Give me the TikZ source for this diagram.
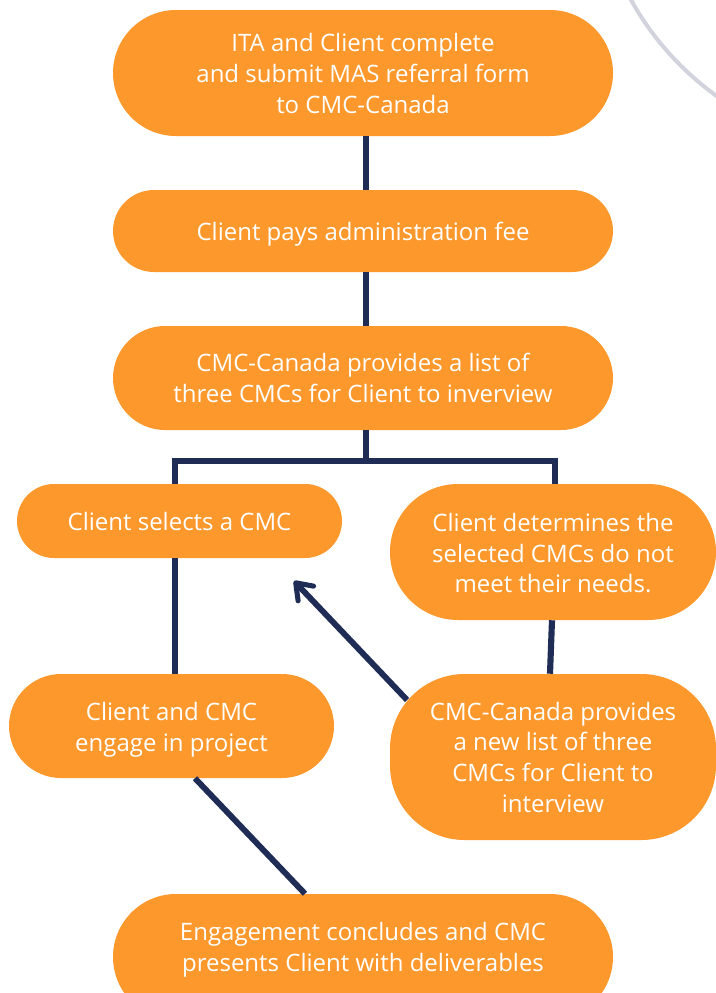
\documentclass[tikz,border=0pt]{standalone}
\usepackage{fontspec}
\setmainfont{Open Sans}
\usetikzlibrary{arrows.meta}
\definecolor{boxorange}{HTML}{FD982C}
\definecolor{linknavy}{HTML}{1F2C56}
\definecolor{arcgrey}{HTML}{D3D3DE}
\tikzset{
  box/.style={fill=boxorange,draw=none,rounded corners=#1,inner sep=0pt},
  boxtext/.style={inner sep=0pt,align=center,text=white,font=\fontsize{18}{23}\selectfont},
  link/.style={draw=linknavy,line width=4.6pt},
  slantlink/.style={draw=linknavy,line width=4.4pt},
}
\begin{document}
\begin{tikzpicture}[x=0.75pt,y=-0.75pt]
\useasboundingbox (0,0) rectangle (716,993);
\clip (0,0) rectangle (716,993);
\draw[arcgrey,line width=3pt] (630,-2) .. controls (650,35) and (680,70) .. (718,97);
\node[box=47.25pt,minimum width=375pt,minimum height=94.5pt,label={[boxtext,yshift=-0.4pt]center:ITA and Client complete\\and submit MAS referral form\\to CMC-Canada}] (n1) at (363,73) {};
\node[box=30.75pt,minimum width=375pt,minimum height=61.5pt,label={[boxtext,yshift=-2.6pt]center:Client pays administration fee}] (n2) at (363,231) {};
\node[box=39pt,minimum width=375pt,minimum height=78pt,label={[boxtext]center:CMC-Canada provides a list of\\three CMCs for Client to inverview}] (n3) at (363,378) {};
\node[box=27.75pt,minimum width=243.75pt,minimum height=55.5pt,label={[boxtext,yshift=-0.6pt]center:Client selects a CMC}] (n4) at (179.5,521) {};
\node[box=51pt,minimum width=244.5pt,minimum height=102pt,label={[boxtext,yshift=-0.8pt]center:Client determines the\\selected CMCs do not\\meet their needs.}] (n5) at (553,552) {};
\node[box=39pt,minimum width=243.75pt,minimum height=78pt,label={[boxtext,yshift=-2.6pt]center:Client and CMC\\engage in project}] (n6) at (171.5,726) {};
\node[box=56pt,minimum width=244.5pt,minimum height=124.5pt,label={[boxtext]center:CMC-Canada provides\\a new list of three\\CMCs for Client to\\interview}] (n7) at (553,757) {};
\node[box=47.25pt,minimum width=375pt,minimum height=94.5pt,label={[boxtext,yshift=5.2pt]center:Engagement concludes and CMC\\presents Client with deliverables}] (n8) at (363,957) {};
\coordinate (junction) at (366,461);
\coordinate (arrowend) at (294,581);
\draw[link] ([xshift=2.25pt]n1.south) -- ([xshift=2.25pt]n2.north);
\draw[link] ([xshift=2.25pt]n2.south) -- ([xshift=2.25pt]n3.north);
\draw[link] ([xshift=2.25pt]n3.south) -- (junction);
\draw[link] ([xshift=-3.4pt]n4.north) -- ++(0,17.25pt) -| ([xshift=1.5pt]n5.north);
\draw[link] ([xshift=-3.4pt]n4.south) -- ([xshift=2.6pt]n6.north);
\draw[link] ([xshift=-0.75pt]n5.south) -- ([xshift=-2.25pt]n7.north);
\draw[slantlink,-{Straight Barb[length=11pt,width=16pt,line width=3.8pt,round]}] ([shift={(13pt,42.75pt)}]n7.west) -- (arrowend);
\draw[slantlink] ([xshift=17.6pt]n6.south) -- ([xshift=-43.5pt]n8.north);
\end{tikzpicture}
\end{document}
